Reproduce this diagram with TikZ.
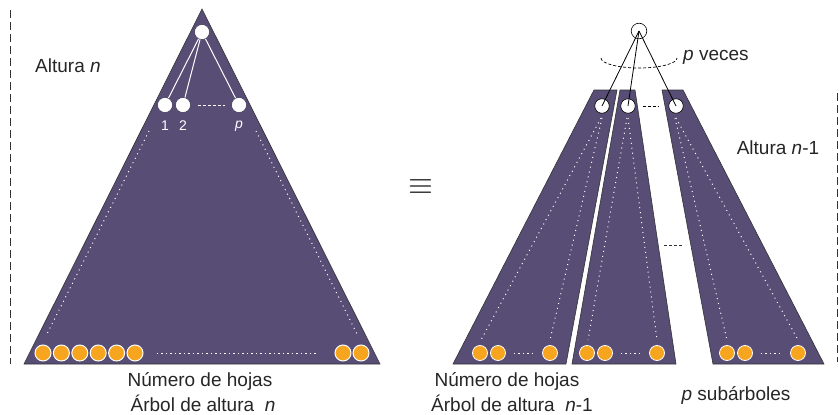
\documentclass[tikz,border=0pt]{standalone}
\usepackage{fontspec}
\setmainfont{Liberation Sans}
\definecolor{tri}{HTML}{574D75}
\definecolor{leafc}{HTML}{F7A51F}
\begin{document}
\begin{tikzpicture}[x=1pt,y=-1pt,
  lab/.style={font=\fontsize{19}{21}\selectfont, inner sep=0pt, text=black!85},
  small/.style={font=\fontsize{14}{16}\selectfont, inner sep=0pt, text=white},
  body/.style={fill=tri, draw=black!80, line width=0.6pt, line join=miter},
  wnode/.style={circle, fill=white, draw=tri!60!black, line width=0.4pt, inner sep=0pt, minimum size=15pt},
  bnode/.style={circle, fill=white, draw=black, line width=0.6pt, inner sep=0pt, minimum size=14.5pt},
  leaf/.style={circle, fill=leafc, draw=white, line width=1pt, inner sep=0pt, minimum size=16pt},
  sleaf/.style={circle, fill=leafc, draw=white, line width=0.8pt, inner sep=0pt, minimum size=15pt},
  wdot/.style={white, line width=1pt, dash pattern=on 1pt off 4pt},
  wdash/.style={white, line width=1pt, dash pattern=on 3pt off 2pt},
  bdash/.style={black, line width=0.8pt, dash pattern=on 3pt off 2pt},
  vdash/.style={black!80, line width=0.8pt, dash pattern=on 8pt off 4pt},
  wline/.style={white, line width=1pt},
  bline/.style={black, line width=0.8pt}]
\useasboundingbox (0,0) rectangle (839,415);

% vertical dashed guides
\coordinate (gl1) at (10,10);
\coordinate (gl2) at (10,364);
\draw[vdash] (gl1) -- (gl2);
\coordinate (gr1) at (837,93);
\coordinate (gr2) at (837,362);
\draw[vdash] (gr1) -- (gr2);

% ---------------- left tree ----------------
\draw[body] (202,9) -- (380,364) -- (24,364) -- cycle;
\draw[wdot] (149,131) -- (46,336);
\draw[wdot] (256,131) -- (358,336);

\node[wnode] (r) at (202,32) {};
\node[wnode] (c1) at (165,105) {};
\node[wnode] (c2) at (183,105) {};
\node[wnode] (cp) at (239,105) {};
\draw[wline] (r) -- (c1);
\draw[wline] (r) -- (c2);
\draw[wline] (r) -- (cp);
\draw[wdash, shorten <=7pt, shorten >=6pt] (c2) -- (cp);
\node[small] (l1) at (165,126) {1};
\node[small] (l2) at (183,126) {2};
\node[small] (lp) at (239,126) {\textit{p}};

\foreach \i/\x in {1/43,2/61.4,3/79.8,4/98.2,5/116.6,6/135,7/343,8/361}
  \node[leaf] (L\i) at (\x,353) {};
\draw[wdot, dash pattern=on 1.5pt off 3pt, shorten <=13pt, shorten >=18pt] (L6) -- (L7);

\node[lab, anchor=west] (altn) at (35,66) {Altura \textit{n}};
\node[lab] (nh1) at (200,381) {Número de hojas};
\node[lab] (ab1) at (203,403) {Árbol de altura \ \textit{n}};

% equivalence
\node[inner sep=0pt, scale=3.2, text=black!90] (eq) at (421,187) {$\equiv$};

% ---------------- right trees ----------------
\draw[body] (594,90) -- (617,90) -- (566,364) -- (453,364) -- cycle;
\draw[body] (620,90) -- (635,90) -- (676,364) -- (572,364) -- cycle;
\draw[body] (662,90) -- (683,90) -- (824,364) -- (713,364) -- cycle;

% dotted inner lines
\draw[wdot] (601,118) -- (481,340);
\draw[wdot] (602,118) -- (550,340);
\draw[wdot] (627,118) -- (588,340);
\draw[wdot] (628,118) -- (657,340);
\draw[wdot] (675,118) -- (727,340);
\draw[wdot] (676,118) -- (798,340);

\node[bnode, minimum size=15.6pt] (R) at (639,31) {};
\node[bnode] (s1) at (602,106) {};
\node[bnode] (s2) at (628,106) {};
\node[bnode] (s3) at (676,106) {};
\draw[bline] (R.center) -- (s1.center);
\draw[bline] (R.center) -- (s2.center);
\draw[bline] (R.center) -- (s3.center);
\draw[bdash, shorten <=7pt, shorten >=9pt] (s2) -- (s3);

% p veces arc
\coordinate (arcL) at (601,58);
\draw[bdash, line width=0.7pt] (arcL) arc[start angle=180, end angle=0, x radius=38, y radius=10];
\node[lab, anchor=west] (pv) at (683,57) {\textit{p} veces};

% leaves of subtrees
\foreach \t/\a/\b/\c in {1/480/498/550, 2/587/605/657, 3/727/745/798}{
  \node[sleaf] (T\t a) at (\a,353) {};
  \node[sleaf] (T\t b) at (\b,353) {};
  \node[sleaf] (T\t c) at (\c,353) {};
  \draw[wdot, dash pattern=on 1.5pt off 3pt, shorten <=8pt, shorten >=8pt] (T\t b) -- (T\t c);
}

\coordinate (dd1) at (664,245);
\coordinate (dd2) at (682,245);
\draw[bdash, black!80, dash pattern=on 3pt off 2pt] (dd1) -- (dd2);

\node[lab] (alt1) at (778,148) {Altura \textit{n}-1};
\node[lab] (nh2) at (507,381) {Número de hojas};
\node[lab] (ab2) at (512,403) {Árbol de altura \ \textit{n}-1};
\node[lab] (ps) at (736,395) {\textit{p} subárboles};
\end{tikzpicture}
\end{document}
